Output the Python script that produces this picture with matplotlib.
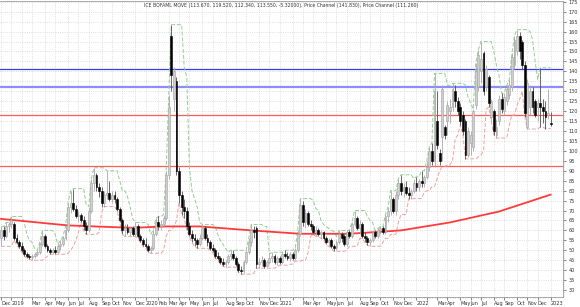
import matplotlib
matplotlib.use("Agg")
import matplotlib.pyplot as plt
from matplotlib.ticker import MultipleLocator
import numpy as np
import pandas as pd


TITLE = ("ICE BOFAML MOVE (113.670, 119.520, 112.340, 113.550, -5.32000), "
         "Price Channel (141.830), Price Channel (111.260)")

FIRST_WEEK = "2018-12-07"   # weekly bars, dated by week end

opens = [
    56, 60, 57, 62, 63, 63, 56, 54, 52, 50,
    48, 47, 46.5, 47, 48, 49, 53, 57, 52, 50,
    49, 50, 49, 52, 53, 56, 60, 72, 74, 71,
    67, 68, 65, 62, 60, 70, 84, 88, 82, 80,
    74, 78, 79, 76, 78, 76, 71, 65, 60, 61,
    59, 61, 58, 62, 57, 55, 53, 52, 50, 51,
    58, 64, 62, 63, 66, 88, 158, 126, 135, 90,
    78, 72, 70, 62, 58, 56, 55, 53, 56, 61,
    56, 54, 51, 50, 47, 46, 44, 43, 44, 47,
    48, 46, 43, 40, 39.5, 44, 49, 54, 60, 61,
    43, 44, 45, 42, 44, 46, 47, 44, 46, 44,
    48, 47, 46, 48, 46, 50, 58, 73, 64, 69,
    63, 62, 59, 60, 58, 59, 56, 54, 55, 52,
    51, 54, 58, 57, 53, 59, 57, 63, 66, 61,
    63, 57, 56, 54, 55, 59, 57, 60, 61, 59,
    67, 70, 76, 70, 78, 84, 80, 82, 79, 78,
    80, 84, 82, 85, 84, 87, 92, 100, 95, 115,
    99, 107, 112, 115, 120, 122, 130, 125, 122, 118,
    115, 98, 104, 102, 123, 132, 140, 149, 132, 137,
    117, 120, 108, 115, 126, 120, 125, 128, 132, 143,
    150, 158, 155, 143, 112, 122, 130, 125, 122, 124,
    122, 120, 118, 113.67,
]
highs = [
    62, 62, 64, 64, 67, 64, 58, 55, 54, 51,
    49, 48, 48, 49, 50, 54, 60, 58, 53, 51,
    51, 52, 53, 55, 57, 62, 74, 80, 81, 73,
    70, 69, 67, 64, 72, 86, 91.5, 89, 84, 82,
    80, 90, 85, 80, 80, 77, 72, 66, 63, 63,
    62, 62, 64, 63, 58, 56, 56, 53, 52, 60,
    66, 67, 65, 68, 90, 128, 163.5, 142, 137, 92,
    80, 76, 72, 64, 60, 58, 56, 58, 63, 62,
    58, 55, 53, 51, 49, 47, 46, 45, 48, 50,
    50, 47, 44, 42, 45, 50, 56, 63, 62, 62,
    46, 47, 46, 45, 48, 49, 48, 47, 47, 49,
    50, 49, 49, 49, 51, 60, 76, 75, 71, 70,
    65, 63, 62, 61, 60, 59.5, 57, 56, 56, 53,
    55, 60, 59, 58, 60, 60, 64, 70, 67, 65,
    64, 59, 57, 56, 60, 60, 61, 62, 62, 68,
    72, 80, 77, 80, 86, 88, 84, 85, 82, 81,
    86, 87, 86, 90, 88, 95, 102, 104, 139, 130,
    101, 133, 113, 125, 126, 134, 133, 127, 124, 120,
    116, 112, 110, 121, 144, 151, 155, 150, 143, 138,
    126, 121, 116, 128, 129, 129, 133, 136, 149, 158,
    161, 160, 156, 145, 136, 133, 132, 126, 126, 141.83,
    126, 125, 131, 119.52,
]
lows = [
    52, 55, 56, 59, 61, 55, 53, 51, 49, 47,
    46, 45.5, 45, 46, 47, 48, 52, 51, 49, 48,
    48, 48, 48.5, 50, 52, 55, 59, 69, 70, 66,
    64, 64, 60, 58, 59, 69, 80, 80, 77, 72,
    72, 76, 75, 74, 74, 70, 64, 58, 57, 58,
    57, 57, 57, 56, 54, 52, 51, 49, 48.5, 50,
    57, 60, 60, 62, 65, 86, 130, 120, 88, 74,
    68, 66, 60, 57, 54, 52, 51, 52, 55, 55,
    52, 50, 49, 46, 45, 43, 42, 41.5, 43, 45,
    45, 42, 39, 38, 38.5, 43, 48, 52, 56, 41,
    41, 42, 41, 41.5, 43, 44, 43, 42.5, 43, 43,
    46, 45, 44.5, 45, 45, 49, 57, 62, 61, 62,
    60, 58, 57, 57, 56, 55, 53, 52, 51, 49.5,
    50, 53, 54, 52, 52, 56, 56, 62, 60, 58,
    56, 54, 52.5, 52, 54, 56, 56, 58, 58, 58,
    64, 68, 69, 68, 76, 78, 77, 78, 76, 76,
    79, 80, 80, 82, 82, 86, 90, 93, 92, 101,
    93, 95, 106, 108, 114, 120, 122, 118, 113, 108,
    96, 97, 98, 100, 121, 130, 134, 128, 130, 122,
    115, 108, 106.5, 113, 119, 118, 123, 126, 130, 141,
    148, 146, 141, 117, 111, 118, 119, 117, 115, 112,
    114, 111.26, 116, 112.34,
]
closes = [
    60, 57, 62, 63, 65, 56, 54, 52, 50, 48,
    47, 46.5, 47, 48, 49, 53, 57, 52, 50, 49,
    50, 49, 52, 53, 56, 60, 72, 74, 71, 67,
    68, 65, 62, 60, 70, 84, 88, 82, 80, 74,
    78, 79, 76, 78, 76, 71, 65, 60, 61, 59,
    61, 58, 62, 57, 55, 53, 52, 50, 51, 58,
    64, 62, 63, 66, 88, 122, 138, 140, 90, 78,
    72, 70, 62, 58, 56, 55, 53, 56, 61, 56,
    54, 51, 50, 47, 46, 44, 43, 44, 47, 48,
    46, 43, 40, 39.5, 44, 49, 54, 60, 59, 43,
    44, 45, 42, 44, 46, 47, 44, 46, 44, 48,
    47, 46, 48, 46, 50, 58, 73, 64, 69, 63,
    62, 59, 60, 58, 59, 56, 54, 55, 52, 51,
    54, 58, 56, 53, 59, 57, 63, 66, 61, 63,
    57, 56, 54, 55, 59, 57, 60, 61, 59, 67,
    70, 76, 70, 78, 84, 80, 82, 79, 78, 80,
    84, 82, 85, 84, 87, 92, 100, 95, 130, 103,
    95, 131, 108, 123, 122, 131, 125, 120, 115, 110,
    98, 110, 108, 120, 140, 148, 146, 130, 141, 124,
    125, 110, 112, 126, 121, 127, 131, 133, 147, 156,
    158, 150, 143, 119, 134, 130, 122, 118, 124, 122,
    120, 117, 118.87, 113.55,
]

ma_weeks = [0, 26, 51, 64, 77, 97, 116, 135, 155, 174, 193, 213]
ma_values = [65.8, 62.5, 61.3, 62.0, 62.0, 60.0, 58.3, 58.3, 60.0, 64.0, 69.5, 78.0]

blue_levels = [141.0, 132.2]
red_levels = [118.0, 92.4]
hidden_months = ["2019-02", "2021-02", "2022-02"]

CHANNEL_WEEKS = 5


def main():
    weeks = pd.date_range(FIRST_WEEK, periods=len(closes), freq="7D")
    df = pd.DataFrame(
        {"open": opens, "high": highs, "low": lows, "close": closes}, index=weeks
    )
    upper = df["high"].rolling(CHANNEL_WEEKS, min_periods=1).max()
    lower = df["low"].rolling(CHANNEL_WEEKS, min_periods=1).min()
    x = np.arange(len(df))

    fig = plt.figure(figsize=(5.8, 3.07), dpi=100)
    ax = fig.add_axes([0.0, 10 / 307, 563 / 580, 296 / 307])

    for lvl in blue_levels[:1]:
        ax.axhline(lvl, color="#3a3aff", lw=0.9, zorder=1)
    for lvl in blue_levels[1:]:
        ax.axhline(lvl, color="#8c8cff", lw=1.6, zorder=1)
    for lvl in red_levels:
        ax.axhline(lvl, color="#ff5a5a", lw=0.9, zorder=1)

    ax.plot(x, upper.values, color="#8fd08f", lw=0.7, ls=(0, (4, 2)), zorder=2)
    ax.plot(x, lower.values, color="#f0a0a0", lw=0.7, ls=(0, (4, 2)), zorder=2)
    ax.plot(ma_weeks, ma_values, color="#ff3a3a", lw=1.3, zorder=2)

    up = (df["close"] >= df["open"]).values
    o = df["open"].values
    c = df["close"].values
    bottom = np.minimum(o, c)
    height = np.maximum(np.abs(c - o), 0.4)

    ax.vlines(x[up], df["low"].values[up], df["high"].values[up],
              color="#a8a8a8", lw=0.6, zorder=3)
    ax.vlines(x[~up], df["low"].values[~up], df["high"].values[~up],
              color="#505050", lw=0.6, zorder=3)
    ax.bar(x[up], height[up], bottom=bottom[up], width=0.72,
           color="#cfcfcf", edgecolor="#a0a0a0", lw=0.4, zorder=4)
    ax.bar(x[~up], height[~up], bottom=bottom[~up], width=0.72,
           color="black", edgecolor="black", lw=0.4, zorder=4)

    # month ticks on the first bar of each month, year on January
    first = ~weeks.to_period("M").duplicated()
    tick_pos = x[first]
    labels = []
    for d in weeks[first]:
        if d.strftime("%Y-%m") in hidden_months:
            labels.append("")
        elif d.month == 1:
            labels.append(str(d.year))
        else:
            labels.append(d.strftime("%b"))
    ax.set_xticks(tick_pos)
    ax.set_xticklabels(labels, fontsize=3.6, ha="left", color="#333333")
    ax.set_xticks(x, minor=True)
    ax.tick_params(axis="x", which="major", length=2, pad=1, color="#888888")
    ax.tick_params(axis="x", which="minor", length=1, color="#aaaaaa", width=0.4)

    ax.yaxis.tick_right()
    ax.set_yticks(np.arange(30, 176, 5))
    ax.yaxis.set_minor_locator(MultipleLocator(1))
    ax.tick_params(axis="y", which="major", labelsize=3.6, length=2, pad=2,
                   color="#888888", labelcolor="#333333")
    ax.tick_params(axis="y", which="minor", length=1, color="#aaaaaa", width=0.4)

    ax.set_xlim(-0.4, 217.8)
    ax.set_ylim(26.5, 175.4)
    ax.grid(True, which="major", color="#d4d4d4", ls=":", lw=0.6)
    ax.set_axisbelow(True)
    for side in ("top", "right", "bottom"):
        ax.spines[side].set_color("#9a9a9a")
        ax.spines[side].set_linewidth(0.6)
    ax.spines["left"].set_visible(False)

    ax.text(0.5, 0.992, TITLE, transform=ax.transAxes, ha="center", va="top",
            fontsize=3.3, color="#333333")

    fig.savefig("out.png", dpi=100)


if __name__ == "__main__":
    main()
